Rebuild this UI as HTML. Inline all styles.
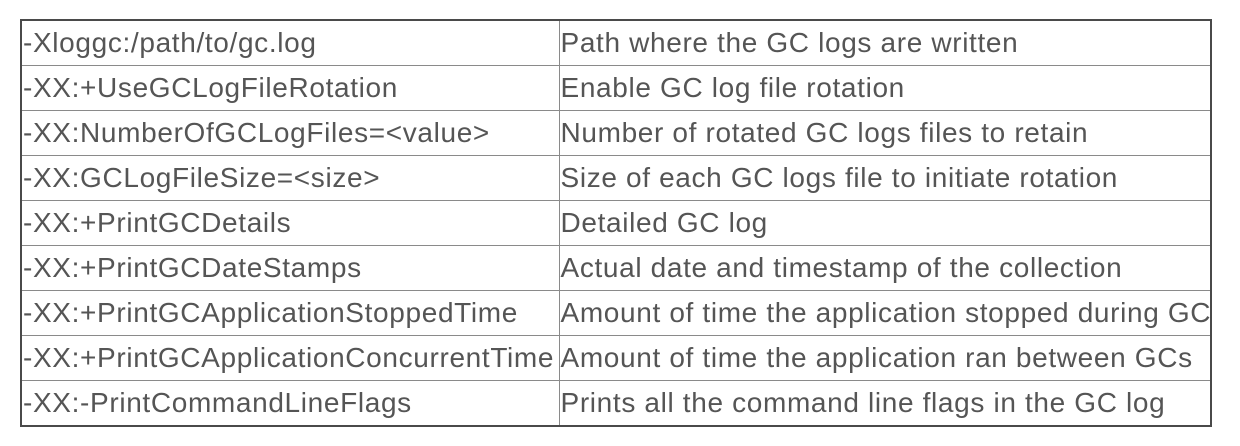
<!DOCTYPE html>
<html><head><meta charset="utf-8"><style>
body{margin:0;background:#fff;width:1240px;height:446px;overflow:hidden}
table{position:absolute;left:20px;top:19px;border-collapse:collapse;border:2px solid #4a4a4a;font-family:"Liberation Sans",sans-serif;font-size:28px;letter-spacing:0.65px;color:#555}
td{border:1px solid #8a8a8a;height:44px;padding:0 0 0 1px;white-space:nowrap;line-height:44px;box-sizing:border-box;overflow:hidden}
td:first-child{width:538px;max-width:538px}
td:last-child{width:652px;max-width:652px}
</style></head><body>
<table>
<tr><td>-Xloggc:/path/to/gc.log</td><td>Path where the GC logs are written</td></tr>
<tr><td>-XX:+UseGCLogFileRotation</td><td>Enable GC log file rotation</td></tr>
<tr><td>-XX:NumberOfGCLogFiles=&lt;value&gt;</td><td>Number of rotated GC logs files to retain</td></tr>
<tr><td>-XX:GCLogFileSize=&lt;size&gt;</td><td>Size of each GC logs file to initiate rotation</td></tr>
<tr><td>-XX:+PrintGCDetails</td><td>Detailed GC log</td></tr>
<tr><td>-XX:+PrintGCDateStamps</td><td>Actual date and timestamp of the collection</td></tr>
<tr><td>-XX:+PrintGCApplicationStoppedTime</td><td>Amount of time the application stopped during GC</td></tr>
<tr><td>-XX:+PrintGCApplicationConcurrentTime</td><td>Amount of time the application ran between GCs</td></tr>
<tr><td>-XX:-PrintCommandLineFlags</td><td>Prints all the command line flags in the GC log</td></tr>
</table>
</body></html>
